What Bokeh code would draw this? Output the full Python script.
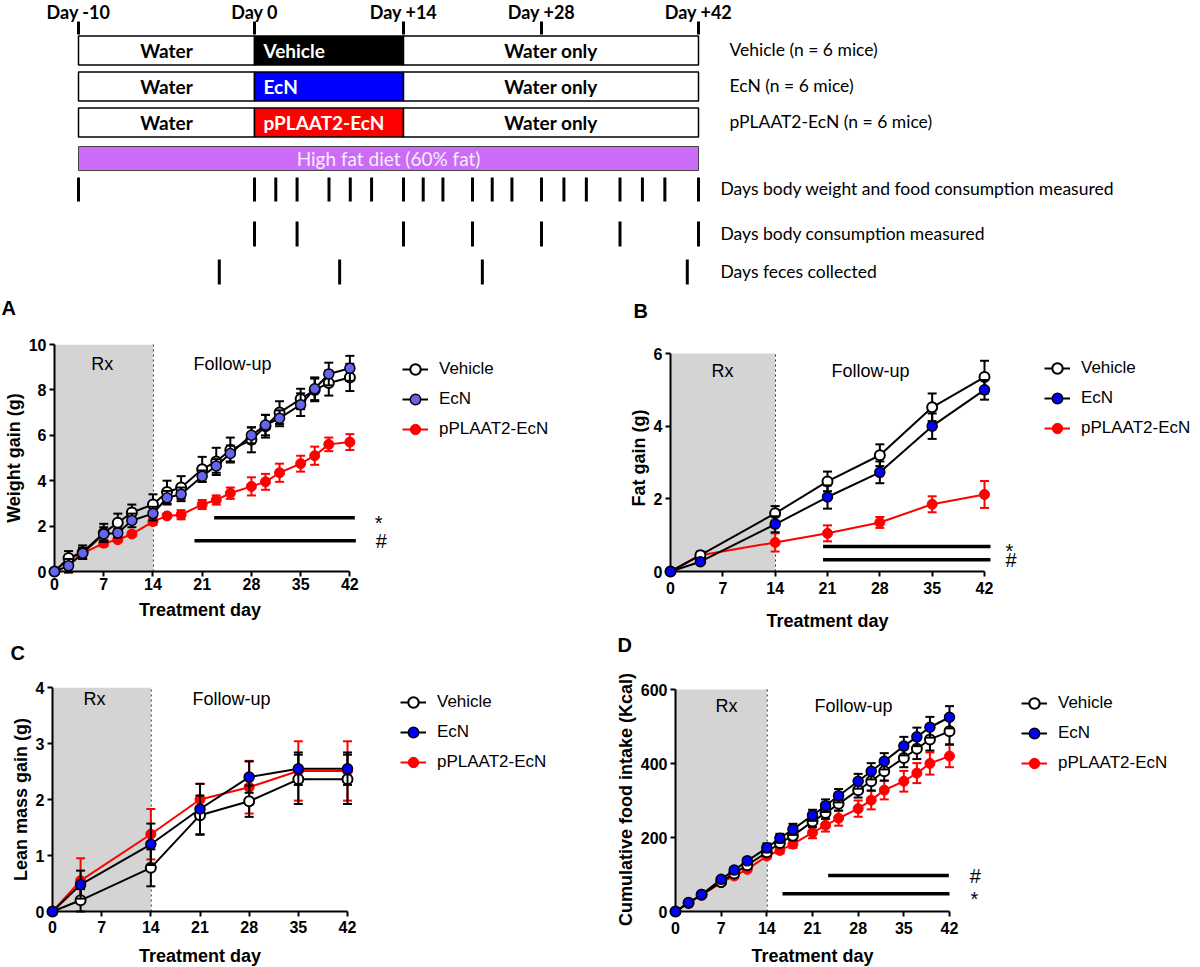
import numpy as np
from bokeh.plotting import figure
from bokeh.models import (Range1d, FixedTicker, Legend, LegendItem, Label,
                          BoxAnnotation, ColumnDataSource)
from bokeh.layouts import column, row
from bokeh.embed import file_html
from bokeh.resources import INLINE
from bokeh.core.properties import value

FONT = "Liberation Sans"
SFONT = "Lato"

# ------------------------------------------------------------------ data
# study schematic
day_marks = [-10, 0, 14, 28, 42]
day_mark_labels = ["Day -10", "Day 0", "Day +14", "Day +28", "Day +42"]
groups = ["Vehicle", "EcN", "pPLAAT2-EcN"]
group_labels = ["Vehicle (n =  6 mice)", "EcN (n = 6 mice)", "pPLAAT2-EcN (n = 6 mice)"]
group_colors = ["#000000", "#0000ff", "#ff0000"]
phase_start = [-10, 0, 14]
phase_end = [0, 14, 42]
phase_text = ["Water", "", "Water only"]
diet_span = [-10, 42]
diet_label = "High fat diet (60% fat)"
weigh_days = [-10, 0, 2, 4, 7, 9, 11, 14, 16, 18, 21, 23, 25, 28, 30, 32, 35, 37, 39, 42]
consumption_days = [0, 4, 14, 21, 28, 35, 42]
feces_days = [-2, 8, 22, 41]
measure_labels = ["Days body weight and food consumption measured",
                  "Days body consumption measured",
                  "Days feces collected"]
panel_letters = ["A", "B", "C", "D"]
x_title = "Treatment day"

# treatment period and x ticks
rx_period = [0, 14]
x_ticks = [0, 7, 14, 21, 28, 35, 42]

# A: weight gain (g)
days_dense = [0, 2, 4, 7, 9, 11, 14, 16, 18, 21, 23, 25, 28, 30, 32, 35, 37, 39, 42]
weight_vehicle = [0, 0.60, 0.85, 1.70, 2.15, 2.60, 2.95, 3.50, 3.70, 4.50, 4.85, 5.35, 5.80, 6.40, 7.00, 7.60, 8.00, 8.30, 8.55]
weight_vehicle_sem = [0, 0.30, 0.30, 0.40, 0.40, 0.35, 0.45, 0.50, 0.50, 0.55, 0.60, 0.55, 0.55, 0.50, 0.50, 0.45, 0.50, 0.55, 0.60]
weight_ecn = [0, 0.25, 0.80, 1.65, 1.70, 2.25, 2.55, 3.25, 3.40, 4.20, 4.65, 5.20, 6.00, 6.45, 6.75, 7.35, 8.05, 8.70, 8.95]
weight_ecn_sem = [0, 0.30, 0.25, 0.30, 0.20, 0.30, 0.30, 0.30, 0.30, 0.25, 0.30, 0.35, 0.35, 0.45, 0.35, 0.50, 0.50, 0.50, 0.55]
weight_pplaat2 = [0, 0.55, 0.80, 1.25, 1.40, 1.65, 2.20, 2.45, 2.50, 2.95, 3.15, 3.45, 3.75, 3.95, 4.35, 4.75, 5.10, 5.60, 5.70]
weight_pplaat2_sem = [0, 0.10, 0.15, 0.15, 0.10, 0.10, 0.15, 0.10, 0.20, 0.20, 0.20, 0.25, 0.40, 0.35, 0.40, 0.35, 0.40, 0.30, 0.35]
weight_sig_start = [22.7, 19.9]
weight_sig_end = [42.7, 42.85]
weight_sig_y = [2.37, 1.36]
weight_sig_sym = ["*", "#"]

# B: fat gain (g)
days_sparse = [0, 4, 14, 21, 28, 35, 42]
fat_vehicle = [0, 0.45, 1.60, 2.48, 3.20, 4.52, 5.35]
fat_vehicle_sem = [0, 0.10, 0.20, 0.27, 0.30, 0.38, 0.45]
fat_ecn = [0, 0.27, 1.30, 2.05, 2.73, 4.00, 5.00]
fat_ecn_sem = [0, 0.05, 0.22, 0.32, 0.30, 0.35, 0.27]
fat_pplaat2 = [0, 0.45, 0.80, 1.05, 1.35, 1.85, 2.12]
fat_pplaat2_sem = [0, 0.05, 0.25, 0.22, 0.15, 0.22, 0.37]
fat_sig_start = [20.4, 20.4]
fat_sig_end = [42.8, 42.8]
fat_sig_y = [0.69, 0.32]
fat_sig_sym = ["*", "#"]

# C: lean mass gain (g)
lean_vehicle = [0, 0.20, 0.78, 1.72, 1.97, 2.36, 2.36]
lean_vehicle_sem = [0, 0.20, 0.33, 0.35, 0.28, 0.44, 0.44]
lean_ecn = [0, 0.48, 1.20, 1.83, 2.40, 2.55, 2.55]
lean_ecn_sem = [0, 0.25, 0.37, 0.45, 0.28, 0.29, 0.29]
lean_pplaat2 = [0, 0.55, 1.38, 2.00, 2.22, 2.51, 2.51]
lean_pplaat2_sem = [0, 0.40, 0.45, 0.28, 0.47, 0.53, 0.53]

# D: cumulative food intake (Kcal)
food_vehicle = [0, 23, 45, 80, 103, 125, 160, 185, 205, 243, 266, 291, 328, 352, 379, 415, 440, 465, 487]
food_vehicle_sem = [0, 3, 4, 6, 7, 8, 10, 10, 12, 15, 15, 18, 20, 25, 25, 25, 28, 30, 35]
food_ecn = [0, 24, 46, 87, 112, 137, 172, 198, 222, 260, 286, 313, 352, 379, 406, 447, 472, 498, 525]
food_ecn_sem = [0, 3, 4, 6, 7, 8, 12, 12, 15, 15, 17, 18, 20, 22, 22, 25, 25, 28, 30]
food_pplaat2 = [0, 23, 44, 78, 96, 114, 150, 165, 182, 213, 233, 252, 278, 301, 328, 352, 374, 400, 420]
food_pplaat2_sem = [0, 3, 4, 5, 6, 6, 6, 8, 10, 15, 17, 20, 22, 25, 25, 28, 27, 30, 30]
food_sig_start = [23.4, 16.4]
food_sig_end = [41.9, 42.0]
food_sig_y = [97, 48]
food_sig_sym = ["#", "*"]

# ------------------------------------------------------------------ layout constants
TOP_H = 322          # schematic + letters A/B
ROW1_H = 278         # panels A, B
STRIP1_H = 65        # x titles A/B + letters C/D
ROW2_H = 278         # panels C, D
STRIP2_H = 23        # x titles C/D
ROW1_TOP = TOP_H
STRIP1_TOP = ROW1_TOP + ROW1_H
ROW2_TOP = STRIP1_TOP + STRIP1_H
STRIP2_TOP = ROW2_TOP + ROW2_H

SCH_DAYS = [-10, 0, 14, 28, 42]          # schematic (not to scale) anchors
SCH_PX = [78, 254, 403, 541, 698]


def sx(d):
    return np.interp(np.asarray(d, dtype=float), SCH_DAYS, SCH_PX)


def blank_fig(height, y_top):
    f = figure(width=1200, height=height, x_range=Range1d(0, 1200),
               y_range=Range1d(y_top + height, y_top), output_backend="svg",
               toolbar_location=None, x_axis_location=None, y_axis_location=None,
               min_border=0, title=None)
    f.grid.visible = False
    f.outline_line_color = None
    return f


def letter(f, x, y, t):
    f.text(x=[x], y=[y], text=[t], text_font=value(FONT), text_font_size="20px",
           text_font_style="bold", text_align="left", text_baseline="middle", text_color="black")


def axis_title(f, x, y):
    f.text(x=[x], y=[y], text=[x_title], text_font=value(FONT), text_font_size="18px",
           text_font_style="bold", text_align="center", text_baseline="middle", text_color="black")


# ------------------------------------------------------------------ schematic
top = blank_fig(TOP_H, 0)

xm = sx(day_marks)
top.text(x=xm, y=11, text=day_mark_labels, text_font=value(SFONT), text_font_size="18px",
         text_font_style="bold", text_align="center", text_baseline="middle", text_color="black")
top.segment(x0=xm, y0=21, x1=xm, y1=34, line_color="black", line_width=3)

ROW_Y = [50, 86, 122]
ROW_H = 29
for i, g in enumerate(groups):
    yc = ROW_Y[i]
    fills = ["white", group_colors[i], "white"]
    top.quad(left=sx(phase_start), right=sx(phase_end), top=yc - ROW_H / 2, bottom=yc + ROW_H / 2,
             fill_color=fills, line_color="black", line_width=1.5)
    centers = (sx(phase_start) + sx(phase_end)) / 2
    top.text(x=[centers[0], centers[2]], y=yc, text=[phase_text[0], phase_text[2]],
             text_font=value(SFONT), text_font_size="19px", text_font_style="bold",
             text_align="center", text_baseline="middle", text_color="black")
    top.text(x=[sx(phase_start[1]) + 9], y=yc, text=[g], text_font=value(SFONT),
             text_font_size="19px", text_font_style="bold", text_align="left",
             text_baseline="middle", text_color="white")
    top.text(x=[729], y=yc - 1, text=[group_labels[i]], text_font=value(SFONT),
             text_font_size="17.5px", text_align="left", text_baseline="middle", text_color="black")

top.quad(left=sx(diet_span[0]), right=sx(diet_span[1]), top=146, bottom=170,
         fill_color="#cc6cf6", line_color="#444444", line_width=1)
top.text(x=[(sx(diet_span[0]) + sx(diet_span[1])) / 2], y=158, text=[diet_label],
         text_font=value(SFONT), text_font_size="19px", text_align="center",
         text_baseline="middle", text_color="#f8eeff")

MEAS_Y = [(177, 201), (221, 246), (259, 284)]
for dys, (y0, y1), lab in zip([weigh_days, consumption_days, feces_days], MEAS_Y, measure_labels):
    xx = sx(dys)
    top.segment(x0=xx, y0=y0, x1=xx, y1=y1, line_color="black", line_width=3)
    top.text(x=[720], y=(y0 + y1) / 2 - 1, text=[lab], text_font=value(SFONT),
             text_font_size="17.5px", text_align="left", text_baseline="middle", text_color="black")

letter(top, 1, 307, panel_letters[0])
letter(top, 633, 310, panel_letters[1])


# ------------------------------------------------------------------ panels
def add_series(p, days, vals, sems, line_color, fill_color, outline, err_color, size, lw_out):
    v = np.asarray(vals, dtype=float)
    e = np.asarray(sems, dtype=float)
    src = ColumnDataSource(dict(x=days, y=v, lo=v - e, hi=v + e))
    p.segment(x0="x", y0="lo", x1="x", y1="hi", source=src, line_color=err_color,
              line_width=2, level="annotation")
    p.scatter(x="x", y="hi", source=src, marker="dash", size=9, line_color=err_color,
              line_width=2, level="annotation")
    p.scatter(x="x", y="lo", source=src, marker="dash", size=9, line_color=err_color,
              line_width=2, level="annotation")
    rl = p.line(x="x", y="y", source=src, line_color=line_color, line_width=2, level="annotation")
    rm = p.scatter(x="x", y="y", source=src, marker="circle", size=size, fill_color=fill_color,
                   line_color=outline, line_width=lw_out, level="annotation")
    return rl, rm


def build_panel(geom, ymax, yticks, ytitle, days, sets, ecn_fill, sig=None):
    fl, ft, fw, fh = geom["fig"]
    x0, x42, y0, ytop = geom["x0"], geom["x42"], geom["y0"], geom["ytop"]
    f_top = geom["frame_top"]
    ppd = (x42 - x0) / 42.0
    ppv = (y0 - ytop) / float(ymax)
    x_end = (fl + fw - x0) / ppd
    y_end = ymax + (ytop - f_top) / ppv

    def dx(px):
        return (px - x0) / ppd

    def dy(py):
        return (y0 - py) / ppv

    p = figure(width=fw, height=fh, x_range=Range1d(0, x_end), y_range=Range1d(0, y_end),
               min_border_left=x0 - fl, min_border_right=0, min_border_top=f_top - ft,
               min_border_bottom=ft + fh - y0, output_backend="svg", toolbar_location=None,
               title=None)
    p.grid.visible = False
    p.outline_line_color = None
    p.background_fill_color = "white"

    p.xaxis.bounds = (0, 42)
    p.yaxis.bounds = (0, ymax)
    p.xaxis.ticker = FixedTicker(ticks=x_ticks)
    p.yaxis.ticker = FixedTicker(ticks=yticks)
    p.yaxis.axis_label = ytitle
    for ax in p.axis:
        ax.axis_line_width = 2
        ax.axis_line_color = "black"
        ax.major_tick_line_width = 2
        ax.major_tick_line_color = "black"
        ax.major_tick_out = 5
        ax.major_tick_in = 0
        ax.minor_tick_line_color = None
        ax.major_label_text_font = FONT
        ax.major_label_text_font_size = "16px"
        ax.major_label_text_font_style = "bold"
        ax.major_label_text_color = "black"
        ax.axis_label_text_font = FONT
        ax.axis_label_text_font_size = "18px"
        ax.axis_label_text_font_style = "bold"
        ax.axis_label_text_color = "black"
    p.xaxis.major_label_standoff = geom["lab_standoff"]
    p.yaxis.major_label_standoff = 3
    p.yaxis.axis_label_standoff = 2

    # treatment window shading and boundary
    p.add_layout(BoxAnnotation(left=rx_period[0], right=rx_period[1], bottom=0, top=ymax,
                               fill_color="#d4d4d4", fill_alpha=1, line_alpha=0, level="underlay"))
    p.segment(x0=[rx_period[1]], y0=[0], x1=[rx_period[1]], y1=[ymax], line_color="black",
              line_width=1.6, line_dash="2 3", level="underlay")

    lab_kw = dict(text_font=FONT, text_color="black", text_font_size="18px",
                  text_align="center", text_baseline="middle")
    p.add_layout(Label(x=dx(geom["rx_cx"]), y=dy(geom["rx_cy"]), text="Rx", **lab_kw))
    p.add_layout(Label(x=dx(geom["fu_cx"]), y=dy(geom["rx_cy"]), text="Follow-up", **lab_kw))

    # data series (drawn pPLAAT2 first, then Vehicle, then EcN)
    (veh, veh_e), (ecn, ecn_e), (ppl, ppl_e) = sets
    r_ppl = add_series(p, days, ppl, ppl_e, "#ff0000", "#ff0000", "#ff0000", "#ff0000", 10, 1)
    r_veh = add_series(p, days, veh, veh_e, "black", "white", "black", "black", 10, 2)
    r_ecn = add_series(p, days, ecn, ecn_e, "black", ecn_fill, "black", "black", 10, 1.5)

    if sig is not None:
        s_start, s_end, s_y, s_sym = sig
        p.segment(x0=s_start, y0=s_y, x1=s_end, y1=s_y, line_color="black", line_width=3.5)
        ssrc = ColumnDataSource(dict(x=[e + geom["sym_off"] / ppd for e in s_end], y=s_y,
                                     t=s_sym, yo=[5 if s == "*" else 0 for s in s_sym]))
        p.text(x="x", y="y", text="t", y_offset="yo", source=ssrc, text_font=value(FONT),
               text_font_size="20px", text_align="left", text_baseline="middle",
               text_color="black")

    leg_top = geom["leg_cy"] - 13
    vx = geom["leg_x"] - x0
    vy = y0 - (leg_top + 86)
    legend = Legend(items=[LegendItem(label=groups[0], renderers=list(r_veh)),
                           LegendItem(label=groups[1], renderers=list(r_ecn)),
                           LegendItem(label=groups[2], renderers=list(r_ppl))],
                    location=(vx, vy), orientation="vertical", padding=0, margin=0, spacing=4,
                    glyph_height=26, glyph_width=26, label_height=26, label_standoff=11,
                    label_text_font=FONT, label_text_font_size="17px", label_text_color="black",
                    border_line_alpha=0, background_fill_alpha=0)
    p.add_layout(legend)
    return p


# plots in the same row share frame top/bottom (Bokeh aligns them)
GEOM = {
    "A": dict(fig=(0, ROW1_TOP, 600, ROW1_H), x0=51, x42=348, y0=571, ytop=344, frame_top=344,
              rx_cx=99, rx_cy=363, fu_cx=230, xt_y=609,
              leg_x=399, leg_cy=369, sym_off=20, lab_standoff=1),
    "B": dict(fig=(600, ROW1_TOP, 600, ROW1_H), x0=670, x42=984, y0=571, ytop=353, frame_top=344,
              rx_cx=722, rx_cy=370, fu_cx=870, xt_y=620,
              leg_x=1044, leg_cy=368, sym_off=15, lab_standoff=5),
    "C": dict(fig=(0, ROW2_TOP, 600, ROW2_H), x0=52, x42=347, y0=911, ytop=687, frame_top=687,
              rx_cx=94, rx_cy=698, fu_cx=231, xt_y=955,
              leg_x=400, leg_cy=702, sym_off=20, lab_standoff=4),
    "D": dict(fig=(600, ROW2_TOP, 600, ROW2_H), x0=675, x42=949, y0=911, ytop=689, frame_top=687,
              rx_cx=726, rx_cy=705, fu_cx=853, xt_y=955,
              leg_x=1021, leg_cy=703, sym_off=21, lab_standoff=5),
}

pA = build_panel(GEOM["A"], 10, [0, 2, 4, 6, 8, 10], "Weight gain (g)", days_dense,
                 [(weight_vehicle, weight_vehicle_sem), (weight_ecn, weight_ecn_sem),
                  (weight_pplaat2, weight_pplaat2_sem)], "#6464f0",
                 (weight_sig_start, weight_sig_end, weight_sig_y, weight_sig_sym))
pB = build_panel(GEOM["B"], 6, [0, 2, 4, 6], "Fat gain (g)", days_sparse,
                 [(fat_vehicle, fat_vehicle_sem), (fat_ecn, fat_ecn_sem),
                  (fat_pplaat2, fat_pplaat2_sem)], "#0000ff",
                 (fat_sig_start, fat_sig_end, fat_sig_y, fat_sig_sym))
pC = build_panel(GEOM["C"], 4, [0, 1, 2, 3, 4], "Lean mass gain (g)", days_sparse,
                 [(lean_vehicle, lean_vehicle_sem), (lean_ecn, lean_ecn_sem),
                  (lean_pplaat2, lean_pplaat2_sem)], "#0000ff")
pD = build_panel(GEOM["D"], 600, [0, 200, 400, 600], "Cumulative food intake (Kcal)",
                 days_dense,
                 [(food_vehicle, food_vehicle_sem), (food_ecn, food_ecn_sem),
                  (food_pplaat2, food_pplaat2_sem)], "#0000ff",
                 (food_sig_start, food_sig_end, food_sig_y, food_sig_sym))

# strips holding x-axis titles (centred on the 0-42 axis) and panel letters C/D
strip1 = blank_fig(STRIP1_H, STRIP1_TOP)
for k in ("A", "B"):
    g = GEOM[k]
    axis_title(strip1, (g["x0"] + g["x42"]) / 2.0, g["xt_y"])
letter(strip1, 10, 652, panel_letters[2])
letter(strip1, 617, 644, panel_letters[3])

strip2 = blank_fig(STRIP2_H, STRIP2_TOP)
for k in ("C", "D"):
    g = GEOM[k]
    axis_title(strip2, (g["x0"] + g["x42"]) / 2.0, g["xt_y"])

layout = column(top, row(pA, pB), strip1, row(pC, pD), strip2)
open("out.html", "w").write(file_html(layout, INLINE))
